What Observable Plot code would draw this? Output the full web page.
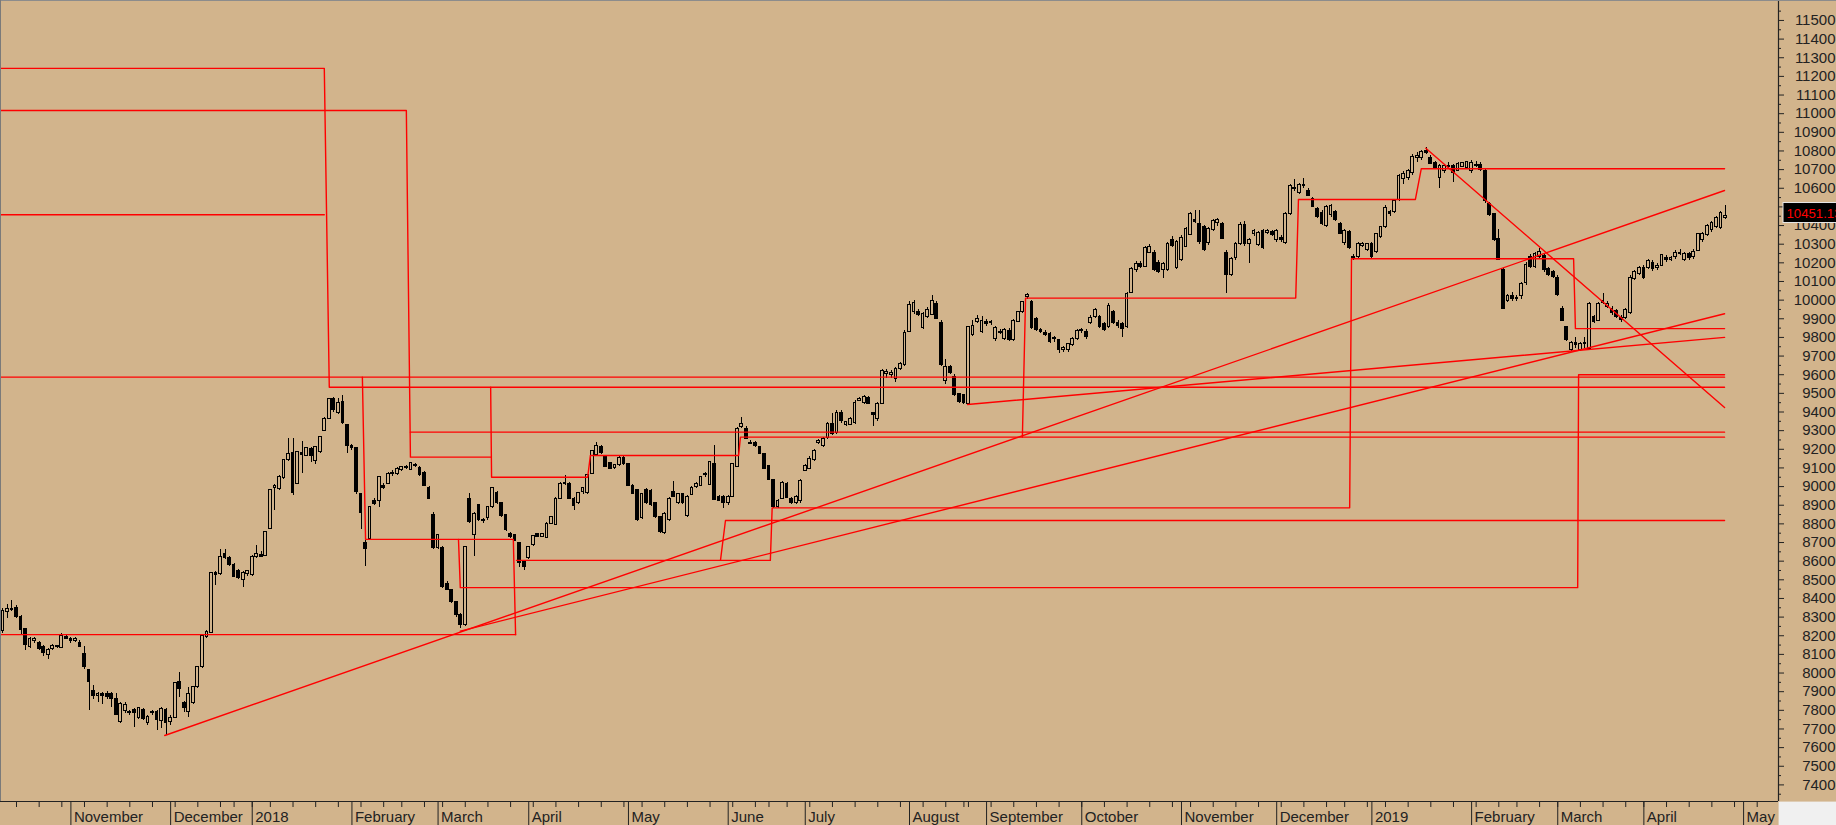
<!DOCTYPE html>
<html><head><meta charset="utf-8">
<script src="https://cdn.jsdelivr.net/npm/d3@7"></script>
<script src="https://cdn.jsdelivr.net/npm/@observablehq/plot@0.6"></script>
<style>html,body{margin:0;padding:0;background:#d2b48c;overflow:hidden}</style>
</head><body><div id="chart"></div>
<script>
// ---- daily candles, one per trading session ----
const opens = [
8223,8330,8345,8350,8300,8235,8140,8170,8160,8140,
8095,8130,8145,8135,8195,8180,8170,8160,8100,8015,
7905,7875,7885,7885,7885,7860,7740,7795,7790,7800,
7760,7800,7730,7790,7790,7745,7800,7735,7760,7950,
7840,7790,7840,7925,8030,8195,8215,8535,8530,8640,
8615,8580,8545,8500,8530,8525,8625,8635,8630,8775,
8995,8985,9045,9145,9180,9015,9180,9165,9200,9135,
9185,9300,9365,9470,9395,9455,9330,9215,9205,8960,
8700,8720,8925,8920,9005,9015,9065,9065,9088,9100,
9090,9115,9100,9075,8995,8845,8670,8670,8480,8445,
8380,8310,8255,8935,8740,8900,8820,8830,8890,8965,
8910,8845,8745,8740,8695,8595,8615,8685,8745,8730,
8725,8800,8795,8935,9015,9015,8935,8910,8970,8965,
9070,9170,9210,9160,9125,9100,9115,9155,9120,9005,
8980,8830,8980,8975,8910,8835,8750,8820,8970,8910,
8960,8840,8955,9000,9005,9060,9010,9120,8945,8945,
8910,8945,9105,9320,9310,9235,9235,9210,9175,9110,
9035,8890,8935,9015,8935,8910,8920,9085,9095,9140,
9235,9215,9260,9335,9285,9395,9330,9330,9340,9460,
9450,9475,9395,9360,9445,9605,9600,9575,9630,9650,
9830,9935,9935,9850,9910,9920,9980,9880,9565,9640,
9590,9495,9490,9445,9815,9885,9830,9885,9875,9790,
9830,9790,9835,9785,9885,9935,10015,9990,9900,9840,
9825,9820,9795,9785,9735,9730,9760,9790,9835,9830,
9880,9910,9910,9870,9855,9935,9880,9870,9855,10040,
10160,10195,10180,10255,10255,10200,10160,10160,10320,10175,
10215,10285,10350,10430,10410,10390,10305,10375,10415,10410,
10255,10135,10225,10300,10405,10300,10355,10295,10370,10360,
10365,10320,10335,10305,10460,10600,10575,10610,10585,10545,
10490,10465,10400,10455,10470,10410,10305,10365,10230,10230,
10290,10270,10300,10260,10340,10390,10470,10470,10535,10650,
10655,10680,10760,10760,10800,10760,10735,10655,10690,10720,
10720,10695,10715,10710,10690,10725,10725,10690,10515,10460,
10330,10160,9995,10020,10005,10020,10090,10230,10180,10230,
10235,10165,10150,10120,9955,9855,9735,9770,9735,9765,
9740,9910,9890,9985,9965,9955,9940,9905,9905,9930,
10115,10140,10175,10175,10200,10175,10185,10225,10215,10230,
10255,10215,10245,10230,10265,10320,10350,10375,10390,10385,
10440];
const highs = [
8345,8365,8390,8360,8310,8240,8190,8190,8170,8150,
8130,8155,8150,8210,8205,8190,8190,8175,8140,8020,
7935,7895,7895,7900,7895,7890,7840,7840,7800,7810,
7815,7810,7770,7800,7800,7815,7810,7770,7950,8005,
7850,7925,7930,8035,8205,8230,8540,8545,8660,8660,
8625,8590,8555,8545,8550,8630,8685,8650,8760,8985,
9010,9060,9145,9260,9260,9190,9240,9210,9210,9215,
9270,9370,9475,9480,9470,9490,9335,9225,9210,8965,
8710,8895,8935,9055,9015,9075,9085,9100,9110,9115,
9130,9125,9110,9080,9000,8860,8745,8680,8490,8450,
8385,8320,8680,8965,8860,8905,8830,8895,8995,8975,
8915,8850,8755,8745,8700,8600,8680,8740,8750,8750,
8805,8840,8940,9020,9060,9020,8940,8970,8995,9065,
9195,9235,9220,9165,9130,9120,9160,9165,9125,9010,
8985,8965,8990,8985,8915,8840,8860,8940,9025,8965,
8965,8950,9000,9020,9055,9075,9135,9220,8950,8950,
8950,9125,9315,9370,9320,9245,9240,9215,9180,9115,
9040,8930,9025,9020,8940,8950,9040,9120,9160,9200,
9255,9265,9345,9390,9410,9410,9350,9370,9460,9480,
9490,9485,9400,9450,9630,9630,9625,9640,9665,9835,
9990,10000,9950,9935,9960,10025,9995,9890,9680,9650,
9600,9500,9495,9860,9890,9920,9910,9895,9890,9860,
9845,9850,9850,9895,9940,9995,10035,10000,9905,9850,
9835,9825,9805,9790,9750,9770,9800,9845,9850,9840,
9915,9955,9920,9880,9980,9945,9890,9880,10040,10175,
10205,10205,10290,10300,10265,10210,10200,10310,10340,10320,
10345,10390,10470,10480,10480,10400,10390,10435,10440,10415,
10265,10230,10310,10415,10420,10330,10380,10370,10380,10380,
10375,10380,10345,10470,10620,10645,10625,10655,10600,10550,
10495,10480,10505,10515,10480,10415,10380,10375,10245,10310,
10310,10305,10310,10360,10395,10505,10480,10540,10675,10690,
10700,10780,10790,10805,10820,10775,10745,10730,10730,10740,
10730,10740,10740,10745,10750,10745,10740,10700,10525,10465,
10380,10170,10030,10040,10025,10095,10200,10245,10255,10275,
10250,10175,10160,10130,9965,9860,9780,9800,9775,9800,
9985,9920,9985,10035,9990,9965,9950,9920,9955,10130,
10160,10180,10185,10220,10210,10195,10245,10240,10235,10265,
10270,10255,10255,10270,10360,10365,10405,10420,10450,10475,
10505];
const lows = [
8210,8290,8330,8290,8200,8120,8130,8160,8120,8090,
8070,8120,8130,8130,8180,8160,8165,8135,8020,7800,
7860,7840,7830,7860,7815,7770,7730,7785,7770,7710,
7750,7745,7720,7770,7690,7700,7665,7720,7755,7870,
7790,7760,7830,7915,8025,8185,8210,8470,8525,8610,
8570,8510,8500,8460,8520,8520,8615,8620,8625,8770,
8870,8980,9040,9135,8950,9010,9070,9160,9130,9120,
9180,9295,9360,9400,9385,9335,9180,9195,8960,8770,
8570,8715,8900,8890,8985,9010,9055,9060,9080,9090,
9085,9100,9055,9000,8930,8660,8660,8455,8440,8375,
8300,8240,8250,8800,8625,8815,8800,8820,8885,8905,
8835,8760,8720,8705,8565,8550,8610,8680,8725,8725,
8720,8795,8790,8930,9005,8930,8870,8905,8960,8960,
9065,9165,9170,9100,9090,9090,9110,9115,9000,8955,
8815,8825,8905,8895,8830,8750,8745,8815,8940,8905,
8905,8835,8950,8990,9000,9050,9005,8925,8920,8880,
8900,8940,9100,9310,9250,9225,9210,9170,9090,9030,
8885,8880,8930,8935,8905,8905,8910,9080,9090,9135,
9225,9210,9255,9275,9280,9340,9320,9325,9335,9455,
9440,9440,9320,9350,9440,9580,9580,9560,9625,9645,
9825,9925,9910,9840,9900,9915,9895,9645,9550,9600,
9485,9445,9440,9440,9805,9875,9820,9860,9865,9780,
9815,9785,9780,9780,9880,9930,10005,9840,9830,9820,
9805,9770,9775,9715,9720,9720,9750,9785,9820,9790,
9870,9900,9850,9830,9850,9870,9850,9800,9850,10035,
10150,10170,10175,10250,10155,10145,10115,10155,10280,10165,
10205,10280,10345,10410,10300,10260,10295,10370,10395,10325,
10035,10125,10215,10295,10290,10195,10340,10285,10270,10350,
10340,10310,10310,10300,10455,10580,10565,10600,10555,10495,
10440,10400,10390,10445,10420,10350,10295,10270,10210,10220,
10280,10260,10220,10250,10330,10385,10450,10465,10530,10620,
10640,10670,10740,10750,10780,10725,10700,10600,10680,10705,
10630,10690,10710,10700,10680,10710,10690,10520,10450,10315,
10210,9950,9985,9990,9995,10005,10080,10170,10170,10220,
10150,10125,10115,10020,9885,9780,9725,9740,9725,9740,
9735,9875,9885,9975,9955,9920,9900,9880,9895,9925,
10105,10130,10110,10165,10155,10160,10180,10200,10205,10220,
10240,10205,10215,10220,10260,10310,10340,10365,10385,10380,
10430];
const closes = [
8332,8345,8340,8300,8230,8150,8180,8180,8130,8110,
8125,8145,8140,8200,8185,8170,8180,8140,8030,7950,
7875,7885,7880,7870,7860,7775,7835,7830,7785,7785,
7810,7755,7765,7785,7750,7805,7730,7760,7945,7915,
7810,7890,7925,8030,8200,8220,8535,8525,8625,8615,
8580,8515,8510,8535,8545,8620,8640,8625,8755,8980,
9005,9050,9140,9175,8965,9185,9170,9205,9165,9210,
9265,9365,9470,9410,9450,9340,9220,9205,8970,8860,
8665,8890,8905,9050,8990,9070,9075,9095,9105,9105,
9125,9110,9060,9005,8935,8670,8740,8460,8445,8380,
8310,8255,8675,8810,8855,8820,8815,8890,8990,8910,
8840,8765,8730,8710,8590,8570,8675,8735,8730,8745,
8800,8835,8935,9015,9020,8935,8895,8965,8990,9060,
9190,9220,9180,9105,9095,9115,9155,9120,9005,8960,
8820,8960,8910,8900,8835,8755,8855,8935,8945,8960,
8910,8945,8995,9015,9050,9070,9130,8930,8925,8910,
8945,9120,9310,9335,9255,9230,9215,9175,9095,9035,
8890,8925,9020,8940,8910,8945,9030,9110,9150,9190,
9245,9255,9335,9280,9395,9350,9345,9365,9450,9470,
9480,9445,9385,9445,9620,9615,9610,9630,9660,9825,
9975,9985,9920,9925,9945,9995,9900,9650,9640,9610,
9490,9455,9450,9855,9860,9900,9890,9870,9885,9850,
9825,9840,9785,9890,9935,9990,10025,9850,9840,9830,
9815,9775,9790,9730,9740,9765,9790,9835,9840,9800,
9905,9945,9855,9840,9970,9875,9860,9845,10035,10165,
10195,10180,10280,10285,10160,10150,10195,10300,10290,10310,
10335,10380,10460,10420,10310,10270,10380,10425,10430,10330,
10135,10220,10300,10405,10300,10320,10370,10360,10280,10370,
10350,10370,10325,10460,10610,10595,10615,10615,10560,10500,
10445,10410,10500,10505,10430,10355,10370,10280,10225,10300,
10300,10300,10230,10355,10390,10495,10460,10530,10665,10675,
10690,10770,10775,10795,10790,10730,10705,10720,10720,10715,
10680,10730,10735,10740,10735,10720,10700,10530,10455,10320,
10215,9955,10020,10005,10010,10085,10190,10180,10245,10260,
10160,10135,10125,10025,9890,9785,9770,9760,9765,9770,
9980,9885,9980,9995,9980,9930,9910,9895,9945,10120,
10150,10170,10120,10210,10165,10185,10240,10215,10225,10255,
10250,10245,10225,10260,10355,10355,10400,10415,10440,10465,
10451.13];

// ---- trading calendar (Sun-Thu sessions) ----
const firstSession = "2017-10-11";
const closedDays = ["2017-12-18","2017-12-19","2017-12-31","2018-01-01","2018-02-13","2018-03-04",
  "2018-05-01","2018-06-14","2018-06-17","2018-06-18","2018-08-19","2018-08-20","2018-08-21",
  "2018-08-22","2018-08-23","2018-10-31","2018-12-18","2019-01-01","2019-02-12","2019-03-03","2019-03-31"];

// ---- y axis tick values ----
const yTickValues = d3.range(7400, 11501, 100);
const yMinorValues = d3.range(7350, 11601, 100);
const lastPriceLabel = "10451.13";

// ---- red drawing lines: [session index, price] ----
const stepLine1 = [[-0.53,11243],[70.9,11243],[72.0,9533],[379.8,9533]];
const stepLine2 = [[-0.53,10458],[70.9,10458]];
const stepLine3 = [[-0.53,11017],[89.0,11017],[89.9,9158],[107.6,9158]];
const level9292 = [[89.9,9292],[379.8,9292]];
const stepLine4 = [[107.6,9533],[107.8,9050],[129.0,9050],[129.6,9167],[162.3,9167],[162.7,9265],[379.8,9265]];
const stepLine5 = [[224.9,9265],[225.6,10011],[285.2,10011],[285.8,10540],[311.6,10540],[312.9,10705],[379.8,10705]];
const level9587 = [[-0.53,9587],[379.8,9587]];
const stepLine6 = [[79.3,9587],[80.0,8717],[112.6,8717],[113.1,8206]];
const stepLine7 = [[100.5,8717],[100.9,8458],[347.4,8458],[347.6,9600],[379.8,9600]];
const level8206 = [[-0.53,8206],[113.1,8206]];
const stepLine8 = [[113.3,8604],[169.3,8604],[169.7,8886],[297.1,8886],[297.5,10222],[346.5,10222],[346.9,9847],[379.8,9847]];
const stepLine9 = [[158.3,8604],[159.4,8818],[379.8,8818]];
const trend1 = [[212.8,9440],[379.8,9800]];
const trend2 = [[35.7,7665],[379.8,10588]];
const trend3 = [[100.9,8225],[379.8,9927]];
const trend4 = [[313.9,10815],[379.8,9424]];

const redLines = [stepLine1,stepLine2,stepLine3,level9292,stepLine4,stepLine5,level9587,stepLine6,
  stepLine7,level8206,stepLine8,stepLine9,trend1,trend2,trend3,trend4];

// ---- build tables ----
const candles = opens.map((o, i) => {
  const c = closes[i];
  const h = Math.max(highs[i], o, c), l = Math.min(lows[i], o, c);
  const up = c >= o;
  let b1 = o, b2 = c;
  if (Math.abs(c - o) < 6) b2 = o + (up ? 6 : -6);
  return {i, o, h, l, c, up, b1, b2};
});

const xDomain = [-0.53, 391.7];
const yDomain = [7311, 11607];

const sessions = [];
{
  const closed = new Set(closedDays);
  let d = d3.utcParse("%Y-%m-%d")(firstSession);
  while (sessions.length <= Math.ceil(xDomain[1])) {
    const wd = d.getUTCDay();
    const key = d3.utcFormat("%Y-%m-%d")(d);
    if (wd <= 4 && !closed.has(key)) sessions.push(new Date(d));
    d = d3.utcDay.offset(d, 1);
  }
}
const monthTicks = [], weekTicks = [];
sessions.forEach((d, i) => {
  if (i === 0 || i > xDomain[1]) return;
  const p = sessions[i - 1];
  if (d.getUTCMonth() !== p.getUTCMonth())
    monthTicks.push({i, label: d.getUTCMonth() === 0 ? d3.utcFormat("%Y")(d) : d3.utcFormat("%B")(d)});
  if (+d3.utcMonday.floor(d) !== +d3.utcMonday.floor(p)) weekTicks.push(i);
});

const linePts = redLines.flatMap((pts, k) => pts.map(([i, v]) => ({i, v, k})));

const pxPerUnitY = 801 / (yDomain[1] - yDomain[0]);
const pxPerUnitX = 1778 / (xDomain[1] - xDomain[0]);

const plot = Plot.plot({
  width: 1836, height: 825,
  marginLeft: 0, marginRight: 58, marginTop: 0, marginBottom: 24,
  x: {domain: xDomain, axis: null},
  y: {domain: yDomain, axis: null},
  style: {background: "#d2b48c", fontFamily: "'Liberation Sans', Arial, sans-serif", fontSize: "15px", overflow: "visible"},
  marks: [
    Plot.ruleX(candles, {x: "i", y1: "l", y2: "h", stroke: "#000", strokeWidth: 1, shapeRendering: "crispEdges"}),
    Plot.rect(candles, {x1: d => d.i - 0.3, x2: d => d.i + 0.3, y1: "b1", y2: "b2",
      fill: d => d.up ? "#d2b48c" : "#000", stroke: "#000", strokeWidth: 1, shapeRendering: "crispEdges"}),
    Plot.line(linePts, {x: "i", y: "v", z: "k", stroke: "#ff0000", strokeWidth: 1.4}),
    // axes frame
    Plot.ruleX([xDomain[1]], {stroke: "#222", strokeWidth: 1.2}),
    Plot.ruleY([yDomain[0]], {stroke: "#222", strokeWidth: 1.2}),
    // y ticks and labels
    Plot.ruleY(yTickValues, {y: d => d, x1: xDomain[1], x2: xDomain[1] + 6 / pxPerUnitX, stroke: "#222"}),
    Plot.ruleY(yMinorValues, {y: d => d, x1: xDomain[1], x2: xDomain[1] + 3 / pxPerUnitX, stroke: "#222"}),
    Plot.text(yTickValues, {y: d => d, text: d => String(d), frameAnchor: "right", dx: 57, textAnchor: "end", fill: "#222", fontSize: 15}),
    // x ticks and labels
    Plot.ruleX(weekTicks, {x: d => d, y1: yDomain[0], y2: yDomain[0] - 6 / pxPerUnitY, stroke: "#222"}),
    Plot.ruleX(monthTicks, {x: "i", y1: yDomain[0], y2: yDomain[0] - 24 / pxPerUnitY, stroke: "#222"}),
    Plot.text(monthTicks, {x: "i", y: yDomain[0], text: "label", textAnchor: "start", dx: 3, dy: 16, fill: "#222", fontSize: 15})
  ]
});
document.getElementById("chart").appendChild(plot);

// decorations placed through the plot's own scales
const xs = plot.scale("x"), ys = plot.scale("y");
const X = v => xs.apply(v), Y = v => ys.apply(v);
const svg = d3.select(plot);
const xr = X(xDomain[1]), yb = Y(yDomain[0]);
svg.append("rect").attr("x", xr + 0.6).attr("y", yb + 0.6).attr("width", 1836 - xr).attr("height", 825 - yb).attr("fill", "#f0f0f0");
svg.append("line").attr("x1", 0).attr("x2", 1836).attr("y1", 0.5).attr("y2", 0.5).attr("stroke", "#8c8c8c");
svg.append("line").attr("x1", 0.5).attr("x2", 0.5).attr("y1", 0).attr("y2", yb).attr("stroke", "#7a7a7a");
const py = Y(closes[closes.length - 1]);
svg.append("rect").attr("x", xr + 5).attr("y", py - 13).attr("width", 70).attr("height", 20)
  .attr("fill", "#000").attr("stroke", "#e8e8e8").attr("stroke-width", 1);
svg.append("text").attr("x", xr + 8.5).attr("y", py + 2.5).attr("fill", "#ff0000")
  .attr("text-anchor", "start").attr("font-size", 13.2)
  .attr("font-family", "'Liberation Sans', Arial, sans-serif").text(lastPriceLabel);
</script>
</body></html>
